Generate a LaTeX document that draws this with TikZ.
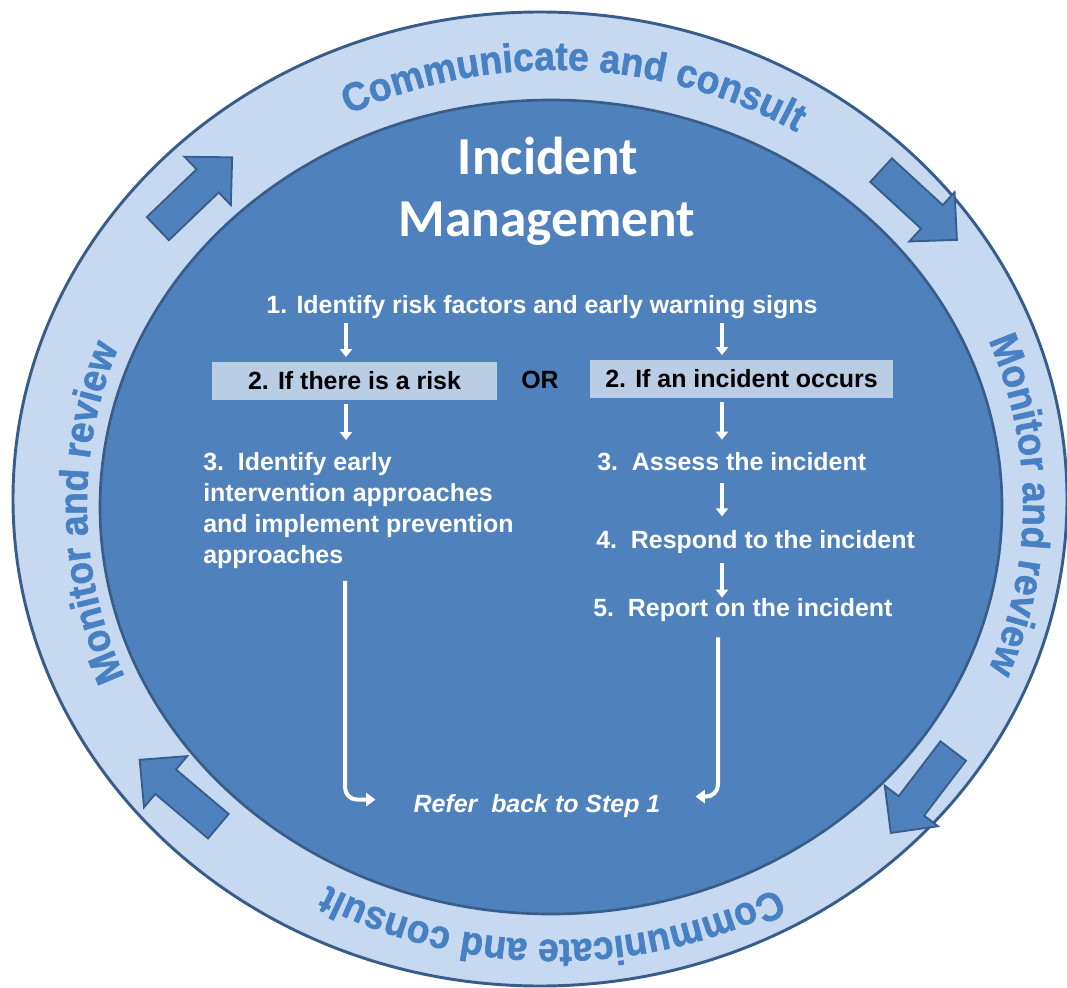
\documentclass[tikz,border=0pt]{standalone}
\usepackage{fontspec}
\setmainfont{Liberation Sans}
\newfontfamily\titlefont{Carlito}
\newfontfamily\ringheavy{Liberation Sans Bold}[FakeBold=1.3,FakeStretch=0.93]
\usetikzlibrary{arrows.meta,decorations.text,calc}
\definecolor{ringfill}{RGB}{198,217,241}
\definecolor{innerfill}{RGB}{79,129,189}
\definecolor{edgeblue}{RGB}{56,93,138}
\definecolor{ringtext}{RGB}{72,128,196}
\definecolor{boxfill}{RGB}{185,205,229}
\newcommand\ringfmt{\ringheavy\fontsize{30}{30}\selectfont}
\begin{document}
\begin{tikzpicture}[x=0.75pt,y=0.75pt,
  ringedge/.style={draw=edgeblue,line width=2.2pt},
  blockarr/.style={fill=innerfill,draw=edgeblue,line width=1.4pt,line join=miter},
  ringlabel/.style={font=\ringfmt,decorate,decoration={text along path,text align=center,text color=ringtext,text={#1}}},
  titletext/.style={inner sep=0pt,text=white,font=\titlefont\bfseries\fontsize{40}{46}\selectfont},
  steptext/.style={inner sep=0pt,text=white,font=\bfseries\fontsize{18.7}{23.25}\selectfont},
  stepbox/.style={fill=boxfill,inner sep=0pt,text=black,minimum height=28.5pt,font=\bfseries\fontsize{18.7}{23.25}\selectfont},
  warrow/.style={draw=white,line width=3pt,-{Triangle[width=9pt,length=6pt]}},
  longarrow/.style={draw=white,line width=3pt,rounded corners=9pt,-{Triangle[width=10pt,length=7pt]}}
]
\useasboundingbox[fill=white] (0,0) rectangle (1067,-988);
% rings
\path[ringedge,fill=ringfill] (540,-499) ellipse [x radius=527,y radius=487];
\path[ringedge,line width=2pt,fill=innerfill] (551,-507) ellipse [x radius=451,y radius=407];
% ring labels
\path[ringlabel={|\ringfmt|Communicate and consult}] (555,-505) ++(132:468 and 435) arc[start angle=132,end angle=43,x radius=468,y radius=435];
\path[ringlabel={|\ringfmt|Monitor and review}] (555,-505) ++(45:468 and 435) arc[start angle=45,end angle=-45,x radius=468,y radius=435];
\path[ringlabel={|\ringfmt|Communicate and consult}] (555,-505) ++(-45.4:468 and 435) arc[start angle=-45.4,end angle=-135.4,x radius=468,y radius=435];
\path[ringlabel={|\ringfmt|Monitor and review}] (555,-505) ++(226:468 and 435) arc[start angle=226,end angle=136,x radius=468,y radius=435];
% block arrows on the ring
\draw[blockarr,shift={(195,-193)},rotate=43.8] (-51.5,-16) -- (17.5,-16) -- (17.5,-33.5) -- (51.5,0) -- (17.5,33.5) -- (17.5,16) -- (-51.5,16) -- cycle;
\draw[blockarr,shift={(919,-205)},rotate=-42.6] (-51.5,-16) -- (17.5,-16) -- (17.5,-33.5) -- (51.5,0) -- (17.5,33.5) -- (17.5,16) -- (-51.5,16) -- cycle;
\draw[blockarr,shift={(922,-792)},rotate=-127.3] (-51.5,-16) -- (17.5,-16) -- (17.5,-33.5) -- (51.5,0) -- (17.5,33.5) -- (17.5,16) -- (-51.5,16) -- cycle;
\draw[blockarr,shift={(179,-793)},rotate=139.8] (-51.5,-16) -- (17.5,-16) -- (17.5,-33.5) -- (51.5,0) -- (17.5,33.5) -- (17.5,16) -- (-51.5,16) -- cycle;
% title
\node[titletext,anchor=base] (t1) at (548,-175) {Incident};
\node[titletext,anchor=base] (t2) at (547,-236) {Management};
% steps
\node[steptext,anchor=base] (s1) at (542,-313) {1. Identify risk factors and early warning signs};
\node[stepbox,minimum width=213.75pt] (bL) at (354.5,-381) {2. If there is a risk};
\node[steptext,text=black,anchor=base] (or) at (540,-388) {OR};
\node[stepbox,minimum width=227.25pt] (bR) at (741.5,-379) {2. If an incident occurs};
\node[steptext,anchor=north west,align=left] (L3) at (203,-452) {3.\ \ Identify early\\intervention approaches\\and implement prevention\\approaches};
\node[steptext,anchor=base west] (R3) at (597,-470) {3.\ \ Assess the incident};
\node[steptext,anchor=base west] (R4) at (596,-548) {4.\ \ Respond to the incident};
\node[steptext,anchor=base west] (R5) at (593,-616) {5.\ \ Report on the incident};
\node[steptext,font=\bfseries\itshape\fontsize{18.7}{23.25}\selectfont,anchor=base] (ref) at (537,-812) {Refer\ \ back to Step 1};
% connector columns
\coordinate (xL) at (346,0);
\coordinate (xR) at (722,0);
\coordinate (xLL) at (345,0);
\coordinate (xRR) at (718,0);
\draw[warrow,shorten <=3pt,shorten >=3.5pt] (s1.south -| xL) -- (bL.north -| xL);
\draw[warrow,shorten <=3pt,shorten >=3.5pt] (s1.south -| xR) -- (bR.north -| xR);
\draw[warrow,shorten <=3pt,shorten >=9pt] (bL.south -| xL) -- (L3.north -| xL);
\draw[warrow,shorten <=3pt,shorten >=9pt] (bR.south -| xR) -- (R3.north -| xR);
\draw[warrow,shorten <=9pt,shorten >=10pt] (R3.south -| xR) -- (R4.north -| xR);
\draw[warrow,shorten <=7pt,shorten >=0pt] (R4.south -| xR) -- (R5.north -| xR);
\draw[longarrow,shorten <=9pt] (L3.south -| xLL) |- ($(ref.west)+(-38,6)$);
\draw[longarrow,shorten <=12pt] (R5.south -| xRR) |- ($(ref.east)+(35,9)$);
\end{tikzpicture}
\end{document}
